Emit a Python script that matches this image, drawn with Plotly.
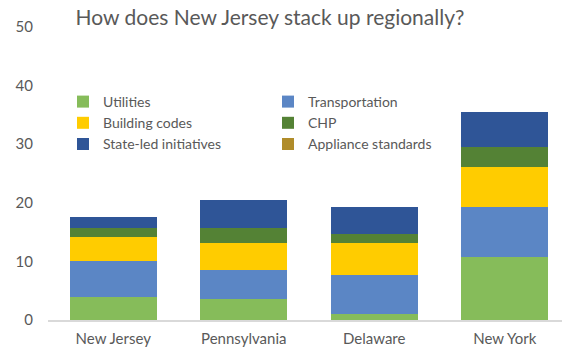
import plotly.graph_objects as go

states = ["New Jersey", "Pennsylvania", "Delaware", "New York"]
utilities = [4.0, 3.5, 1.1, 10.7]
transportation = [6.1, 5.1, 6.5, 8.5]
building_codes = [4.0, 4.5, 5.5, 6.9]
chp = [1.6, 2.6, 1.5, 3.5]
state_led = [1.9, 4.7, 4.6, 5.9]
appliance = [0, 0, 0, 0]

series = [
    ("Utilities", utilities, "#86BC5A", "legend"),
    ("Transportation", transportation, "#5B86C5", "legend2"),
    ("Building codes", building_codes, "#FFCC00", "legend"),
    ("CHP", chp, "#548235", "legend2"),
    ("State-led initiatives", state_led, "#2F5597", "legend"),
    ("Appliance standards", appliance, "#B08C2A", "legend2"),
]

FONT = "Lato"
GRAY = "#595959"

fig = go.Figure()
for name, vals, color, lg in series:
    fig.add_trace(go.Bar(x=states, y=vals, name=name, marker=dict(color=color, line=dict(width=0)),
                         legend=lg))

legend_common = dict(font=dict(family=FONT, size=14, color=GRAY), bgcolor="rgba(0,0,0,0)",
                     orientation="v", xanchor="left", yanchor="top", tracegroupgap=0,
                     itemwidth=30, traceorder="normal")

# the page body has an 8px margin, so the figure is 8px smaller than the window
W, H = 562, 350
L, R, T, B = 40, 0, 19, 38
pw = W - L - R
ph = H - T - B

def px_x(x):
    return (x - L) / pw

def px_y(y):
    return (H - B - y) / ph

fig.update_layout(
    width=W, height=H,
    barmode="stack", bargap=0.33,
    margin=dict(l=L, r=R, t=T, b=B),
    paper_bgcolor="white", plot_bgcolor="white",
    font=dict(family=FONT, color=GRAY),
    title=dict(text="How does New Jersey stack up regionally?", x=262 / W, xref="container",
               xanchor="center", y=1 - 2 / H, yref="container", yanchor="top",
               font=dict(family=FONT, size=21, color=GRAY)),
    xaxis=dict(showgrid=False, showline=True, linecolor="#D9D9D9", linewidth=1.5,
               ticks="", tickfont=dict(family=FONT, size=15, color=GRAY), ticklabelstandoff=4),
    yaxis=dict(range=[0, 50], dtick=10, showgrid=False, showline=False, zeroline=False,
               ticks="", tickfont=dict(family=FONT, size=15, color=GRAY), ticklabelstandoff=14),
    legend=dict(x=px_x(55), y=px_y(78), **legend_common),
    legend2=dict(x=px_x(260), y=px_y(78), **legend_common),
    showlegend=True,
)

fig.write_html("out.html")
